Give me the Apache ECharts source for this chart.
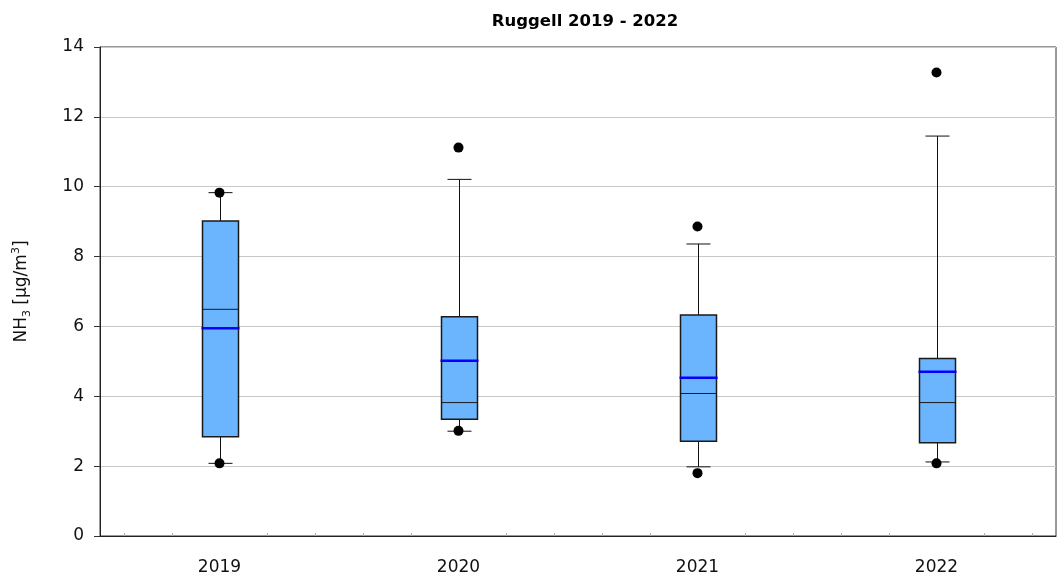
<!DOCTYPE html>
<html>
<head>
<meta charset="utf-8">
<script src="https://cdn.jsdelivr.net/npm/echarts@6/dist/echarts.min.js"></script>
<style>
  html, body { margin: 0; padding: 0; background: #fff; }
  #chart { width: 1060px; height: 579px; }
</style>
</head>
<body>
<div id="chart"></div>
<script>
// Annual NH3 statistics, Ruggell
const years = ['2019', '2020', '2021', '2022'];
const whiskerLow = [2.08, 3.00, 1.98, 2.12];
const q1 = [2.84, 3.34, 2.71, 2.67];
const median = [6.49, 3.82, 4.08, 3.82];
const q3 = [9.02, 6.28, 6.33, 5.08];
const whiskerHigh = [9.83, 10.21, 8.36, 11.45];
const mean = [5.95, 5.02, 4.53, 4.70];
const minVal = [2.08, 3.01, 1.80, 2.08];
const maxVal = [9.83, 11.12, 8.86, 13.27];
const yTicks = [0, 2, 4, 6, 8, 10, 12, 14];

const FONT = '"DejaVu Sans", Verdana, sans-serif';

const boxData = years.map((y, i) => [i, whiskerLow[i], q1[i], median[i], q3[i], whiskerHigh[i], mean[i]]);
const extremes = [];
years.forEach((y, i) => {
  extremes.push([i, minVal[i]]);
  extremes.push([i, maxVal[i]]);
});

const BOX_W = 36, CAP_W = 24, MEAN_W = 38;

function renderBox(params, api) {
  const i = api.value(0);
  const pLow = api.coord([i, api.value(1)]);
  const pQ1 = api.coord([i, api.value(2)]);
  const pMed = api.coord([i, api.value(3)]);
  const pQ3 = api.coord([i, api.value(4)]);
  const pHigh = api.coord([i, api.value(5)]);
  const pMean = api.coord([i, api.value(6)]);
  const x = Math.round(pQ1[0]) + 0.5;
  const line = { stroke: '#111', lineWidth: 1 };
  return {
    type: 'group',
    children: [
      { type: 'line', shape: { x1: x, y1: pHigh[1], x2: x, y2: pQ3[1] }, style: line },
      { type: 'line', shape: { x1: x, y1: pQ1[1], x2: x, y2: pLow[1] }, style: line },
      { type: 'line', shape: { x1: x - CAP_W / 2, y1: pHigh[1], x2: x + CAP_W / 2, y2: pHigh[1] }, style: line },
      { type: 'line', shape: { x1: x - CAP_W / 2, y1: pLow[1], x2: x + CAP_W / 2, y2: pLow[1] }, style: line },
      { type: 'rect', shape: { x: x - BOX_W / 2, y: pQ3[1], width: BOX_W, height: pQ1[1] - pQ3[1] },
        style: { fill: '#6bb5ff', stroke: '#1a1a1a', lineWidth: 1.5 } },
      { type: 'line', shape: { x1: x - BOX_W / 2, y1: pMed[1], x2: x + BOX_W / 2, y2: pMed[1] },
        style: { stroke: '#1a1a1a', lineWidth: 1 } },
      { type: 'line', shape: { x1: x - MEAN_W / 2, y1: pMean[1], x2: x + MEAN_W / 2, y2: pMean[1] },
        style: { stroke: '#0000ff', lineWidth: 2.5 } }
    ]
  };
}

// small secondary marks along the category axis
function renderMinorTicks(params, api) {
  const i = api.value(0);
  const base = api.coord([i, 0]);
  const band = api.size([1, 0])[0];
  const children = [];
  [-0.4, -0.2, 0.2, 0.4].forEach(f => {
    const x = Math.round(base[0] + f * band) + 0.5;
    children.push({ type: 'line', shape: { x1: x, y1: base[1], x2: x, y2: base[1] - 3 },
      style: { stroke: '#b0b0b0', lineWidth: 1 } });
  });
  return { type: 'group', children };
}

const chart = echarts.init(document.getElementById('chart'), null, { renderer: 'canvas' });
chart.setOption({
  animation: false,
  backgroundColor: '#fff',
  title: {
    text: 'Ruggell 2019 - 2022',
    left: 580, top: 8, textAlign: 'center',
    textStyle: { fontFamily: FONT, fontWeight: 'bold', fontSize: 16.5, color: '#000' }
  },
  grid: {
    left: 100, right: 4, top: 47, bottom: 43,
    show: true, borderColor: '#333', borderWidth: 1, backgroundColor: 'transparent'
  },
  xAxis: {
    type: 'category',
    data: years,
    boundaryGap: true,
    axisLine: { lineStyle: { color: '#222', width: 1 } },
    axisTick: { alignWithLabel: true, length: 6, lineStyle: { color: '#333' } },
    axisLabel: { fontFamily: FONT, fontSize: 17, color: '#111', margin: 23 },
    splitLine: { show: false }
  },
  yAxis: {
    type: 'value',
    min: yTicks[0], max: yTicks[yTicks.length - 1], interval: 2,
    name: '{n|NH}{sub|3}{n| [µg/m}{sup|3}{n|]}',
    nameLocation: 'middle',
    nameRotate: 90,
    nameGap: 67,
    nameTextStyle: {
      fontFamily: FONT, fontSize: 17, color: '#111',
      rich: {
        n: { fontFamily: FONT, fontSize: 17, color: '#111', lineHeight: 22, verticalAlign: 'middle' },
        sub: { fontFamily: FONT, fontSize: 11, color: '#111', lineHeight: 22, verticalAlign: 'bottom', padding: [9, 0, 0, 0] },
        sup: { fontFamily: FONT, fontSize: 11, color: '#111', lineHeight: 22, verticalAlign: 'top', padding: [0, 0, 9, 0] }
      }
    },
    axisLine: { show: true, lineStyle: { color: '#222', width: 1 } },
    axisTick: { show: true, length: 6, lineStyle: { color: '#333' } },
    axisLabel: { fontFamily: FONT, fontSize: 17, color: '#111', margin: 16 },
    splitLine: { show: true, lineStyle: { color: '#c8c8c8', width: 1 } }
  },
  series: [
    {
      type: 'custom',
      renderItem: renderMinorTicks,
      data: years.map((y, i) => [i]),
      encode: { x: 0 },
      silent: true,
      z: 1
    },
    {
      type: 'custom',
      renderItem: renderBox,
      data: boxData,
      encode: { x: 0, y: [1, 2, 3, 4, 5, 6] },
      z: 2
    },
    {
      type: 'scatter',
      data: extremes,
      symbol: 'circle',
      symbolSize: 10,
      itemStyle: { color: '#000', opacity: 1 },
      z: 3
    }
  ]
});
</script>
</body>
</html>
